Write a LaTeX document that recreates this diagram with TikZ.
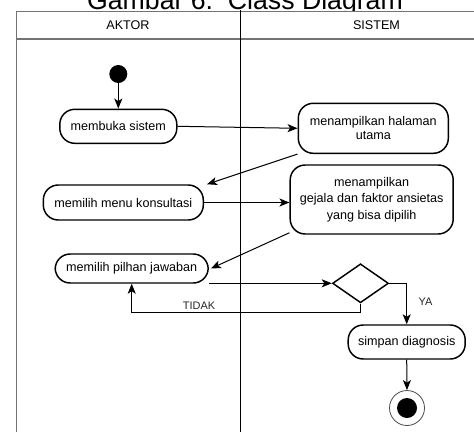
\documentclass[tikz,border=0pt]{standalone}
\usepackage{fontspec}
\setmainfont{Liberation Sans}
\usetikzlibrary{arrows.meta,shapes.geometric}
\newdimen\pxu \pxu=0.75pt
\begin{document}
\begin{tikzpicture}[x=0.75pt,y=-0.75pt,
  act/.style={draw, line width=1.1pt, rounded corners=15\pxu, align=center,
    inner sep=0pt, font=\fontsize{9.45}{11.6}\selectfont},
  flow/.style={-{Stealth[length=7.5pt,width=6pt,inset=1.9pt]}, line width=0.75pt},
  lane/.style={draw=black!55, line width=0.8pt},
  hdr/.style={font=\fontsize{9.45}{11}\selectfont, inner sep=0pt},
  lbl/.style={font=\fontsize{8.2}{10}\selectfont, text=black!85, inner sep=0pt}]
\useasboundingbox (0,0) rectangle (474,432);

% caption above the swimlanes
\node[font=\fontsize{20}{24}\selectfont, anchor=base] (title) at (245,9) {Gambar 6.\ \ Class Diagram};

% swimlane frame
\fill[white] (16.5,11.7) rectangle (474,432);
\draw[lane] (16.5,432) -- (16.5,11.7) -- (474,11.7);
\draw[lane] (16.5,39) -- (474,39);
\draw[line width=0.6pt] (240,10) -- (240,432);
\node[hdr] (aktor) at (128,25.5) {AKTOR};
\node[hdr] (sistem) at (376.5,25.5) {SISTEM};

% activities
\node[circle, fill, minimum size=18\pxu, inner sep=0pt] (start) at (118.3,74) {};
\node[act, minimum width=117\pxu, minimum height=34\pxu] (buka) at (118.3,126.3) {membuka sistem};
\node[act, minimum width=150\pxu, minimum height=50\pxu, font=\fontsize{9.45}{10.7}\selectfont] (halaman) at (373.3,128.3) {menampilkan halaman\\utama};
\node[act, minimum width=160\pxu, minimum height=35\pxu] (konsul) at (123.3,202.5) {memilih menu konsultasi};
\node[act, minimum width=163\pxu, minimum height=69\pxu, font=\fontsize{9.45}{12.4}\selectfont] (gejala) at (371.7,199.5) {menampilkan\\gejala dan faktor ansietas\\yang bisa dipilih};
\node[act, minimum width=153\pxu, minimum height=29\pxu] (jawab) at (131.7,268.5) {memilih pilhan jawaban};
\node[diamond, draw, line width=1.1pt, minimum width=56\pxu, minimum height=39\pxu, inner sep=0pt] (dec) at (360.5,283.3) {};
\node[act, minimum width=117\pxu, minimum height=34\pxu] (simpan) at (406.7,342) {simpan diagnosis};
\node[circle, draw=black!70, line width=0.6pt, minimum size=35\pxu, inner sep=0pt] (akhir) at (407,408) {};
\node[circle, fill, minimum size=20\pxu, inner sep=0pt] (akhirdot) at (akhir.center) {};

% transitions
\draw[flow] (start) -- (buka);
\draw[flow] (buka.east) -- (halaman.west);
\draw[flow] (halaman.south west) -- ([xshift=3\pxu]konsul.north east);
\draw[flow] (konsul.east) -- (konsul.east -| gejala.west);
\draw[flow] ([yshift=2\pxu]gejala.south west) -- ([xshift=2\pxu]jawab.east);
\draw[flow] (jawab.south east |- dec.west) -- (dec.west);
\draw[flow] (dec.east) -| (simpan.north);
\draw[flow] (dec.south) -- ++(0,9) -| (jawab.south);
\draw[flow] (simpan.south) -- (akhir.north);

% guard labels
\node[lbl] (ya) at (425.5,301.7) {YA};
\node[lbl] (tidak) at (199,305.7) {TIDAK};
\end{tikzpicture}
\end{document}
